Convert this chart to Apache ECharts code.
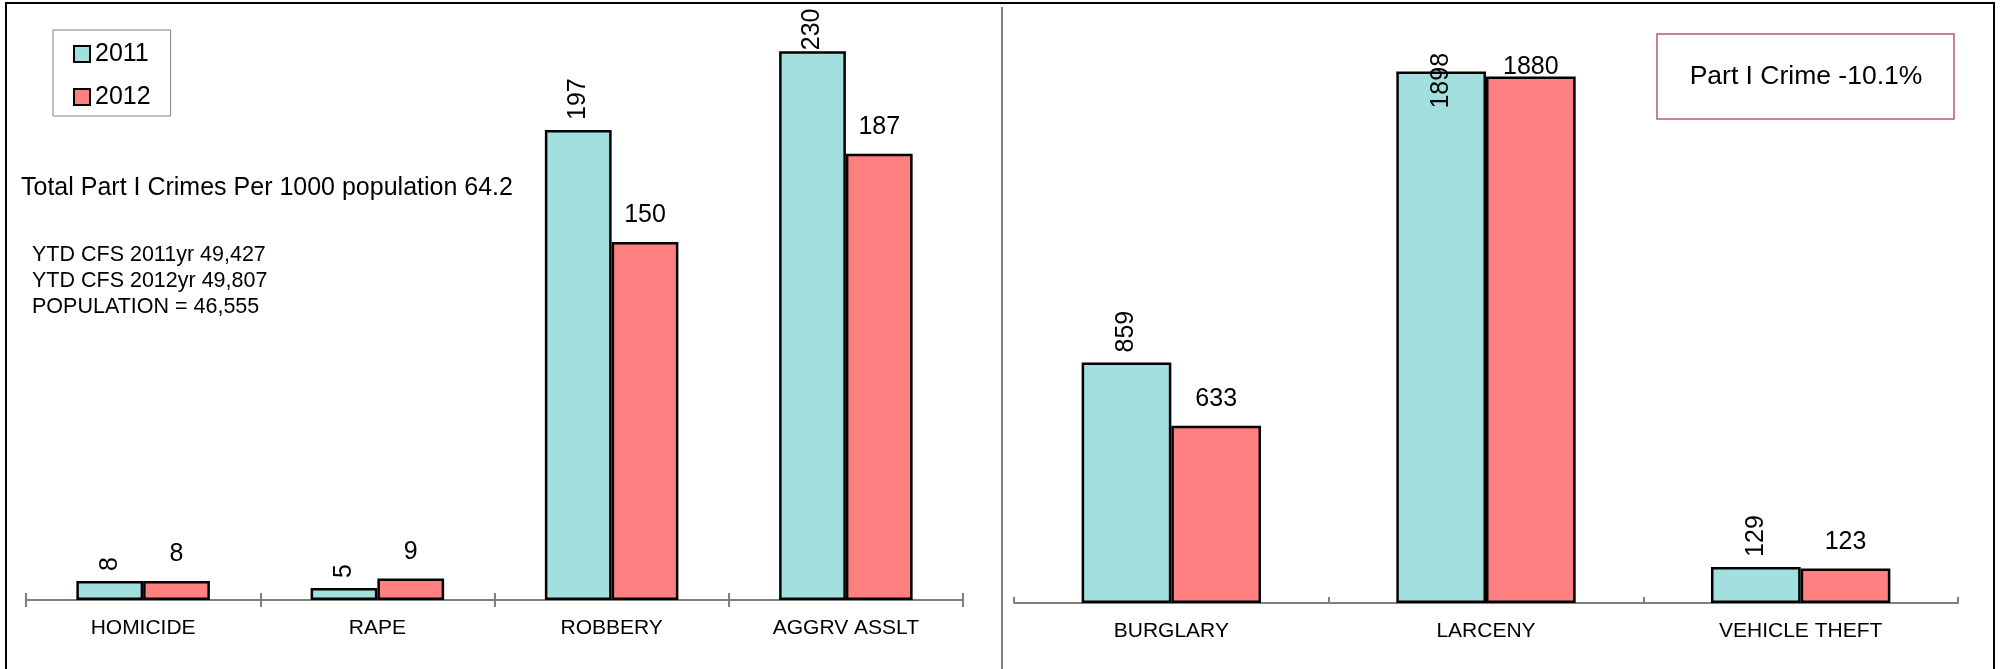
<!DOCTYPE html>
<html>
<head>
<meta charset="utf-8">
<script src="https://cdn.jsdelivr.net/npm/echarts@6/dist/echarts.min.js"></script>
<style>html,body{margin:0;padding:0;background:#fff}#c{width:2001px;height:669px}</style>
</head>
<body>
<div id="c"></div>
<script>
const seriesNames = ['2011', '2012'];
const categoriesLeft = ['HOMICIDE', 'RAPE', 'ROBBERY', 'AGGRV ASSLT'];
const left2011 = [8, 5, 197, 230];
const left2012 = [8, 9, 150, 187];
const categoriesRight = ['BURGLARY', 'LARCENY', 'VEHICLE THEFT'];
const right2011 = [859, 1898, 129];
const right2012 = [633, 1880, 123];
const noteMain = 'Total Part I Crimes Per 1000 population 64.2';
const noteLines = ['YTD CFS 2011yr 49,427', 'YTD CFS 2012yr 49,807', 'POPULATION = 46,555'];
const boxText = 'Part I Crime -10.1%';

const FONT = '"Liberation Sans", Arial, sans-serif';
const C2011 = '#A2E0E0';
const C2012 = '#FF8080';

// label placement tweaks (style only): distance overrides by [seriesKey][index]
const distOverride = { L2011: {3: 1}, R2011: {1: -37}, R2012: {1: -3} };

function makeData(values, key) {
  return values.map((v, i) => {
    const d = { value: v };
    if (distOverride[key] && distOverride[key][i] !== undefined) {
      d.label = { distance: distOverride[key][i] };
    }
    return d;
  });
}

function barSeries(name, values, key, color, xi, yi, rotated) {
  return {
    type: 'bar', name: name, xAxisIndex: xi, yAxisIndex: yi,
    data: makeData(values, key),
    barGap: '0%', barCategoryGap: '43%',
    itemStyle: { color: color, borderColor: '#000', borderWidth: 2.5 },
    label: rotated ? {
      show: true, position: 'top', rotate: 90, align: 'left', verticalAlign: 'middle',
      distance: 10, fontSize: 25, fontFamily: FONT, color: '#000'
    } : {
      show: true, position: 'top', distance: 14, fontSize: 25, fontFamily: FONT, color: '#000'
    }
  };
}

const chart = echarts.init(document.getElementById('c'), null, { renderer: 'canvas' });
const axisLineStyle = { color: '#7f7f7f', width: 2 };
const option = {
  animation: false,
  backgroundColor: '#fff',
  legend: {
    data: seriesNames, orient: 'vertical', left: 53, top: 30,
    borderColor: '#808080', borderWidth: 1, padding: [11, 20, 6, 20],
    itemWidth: 16, itemHeight: 16, itemGap: 17, icon: 'rect',
    itemStyle: { borderWidth: 2, borderColor: '#000' },
    textStyle: { fontSize: 25, fontFamily: FONT, color: '#000', lineHeight: 26 }
  },
  grid: [
    { left: 26, width: 937, top: 3.5, height: 596.5 },
    { left: 1014, width: 944, top: 43, height: 560 }
  ],
  xAxis: [
    { type: 'category', gridIndex: 0, data: categoriesLeft, position: 'bottom',
      axisLine: { lineStyle: axisLineStyle },
      axisTick: { show: true, length: 7, lineStyle: axisLineStyle },
      axisLabel: { fontSize: 21, fontFamily: FONT, color: '#000', margin: 18 } },
    { type: 'category', gridIndex: 0, data: categoriesLeft, position: 'bottom',
      axisLine: { show: false },
      axisTick: { show: true, inside: true, length: 7, lineStyle: axisLineStyle },
      axisLabel: { show: false } },
    { type: 'category', gridIndex: 1, data: categoriesRight, position: 'bottom',
      axisLine: { lineStyle: axisLineStyle },
      axisTick: { show: true, inside: true, length: 6, lineStyle: axisLineStyle },
      axisLabel: { fontSize: 21, fontFamily: FONT, color: '#000', margin: 18 } }
  ],
  yAxis: [
    { type: 'value', gridIndex: 0, min: 0, max: 250, show: false, splitLine: { show: false } },
    { type: 'value', gridIndex: 1, min: 0, max: 2000, show: false, splitLine: { show: false } }
  ],
  series: [
    barSeries(seriesNames[0], left2011, 'L2011', C2011, 0, 0, true),
    barSeries(seriesNames[1], left2012, 'L2012', C2012, 0, 0, false),
    barSeries(seriesNames[0], right2011, 'R2011', C2011, 2, 1, true),
    barSeries(seriesNames[1], right2012, 'R2012', C2012, 2, 1, false)
  ],
  graphic: [
    { type: 'rect', silent: true, shape: { x: 6, y: 3, width: 1988, height: 720 },
      style: { fill: 'none', stroke: '#000', lineWidth: 2 } },
    { type: 'line', silent: true, shape: { x1: 1002, y1: 7, x2: 1002, y2: 669 },
      style: { stroke: '#808080', lineWidth: 2 } },
    { type: 'text', x: 21, y: 188, style: { text: noteMain, font: '25px ' + FONT, fill: '#000', align: 'left', verticalAlign: 'middle' } },
    { type: 'text', x: 32, y: 255, style: { text: noteLines[0], font: '21.5px ' + FONT, fill: '#000', align: 'left', verticalAlign: 'middle' } },
    { type: 'text', x: 32, y: 281, style: { text: noteLines[1], font: '21.5px ' + FONT, fill: '#000', align: 'left', verticalAlign: 'middle' } },
    { type: 'text', x: 32, y: 307, style: { text: noteLines[2], font: '21.5px ' + FONT, fill: '#000', align: 'left', verticalAlign: 'middle' } },
    { type: 'rect', silent: true, shape: { x: 1657, y: 34, width: 297, height: 85 },
      style: { fill: '#fff', stroke: '#B5568B', lineWidth: 1.5 } },
    { type: 'text', x: 1806, y: 77, style: { text: boxText, font: '26.5px ' + FONT, fill: '#000', align: 'center', verticalAlign: 'middle' } }
  ]
};
chart.setOption(option);
</script>
</body>
</html>
